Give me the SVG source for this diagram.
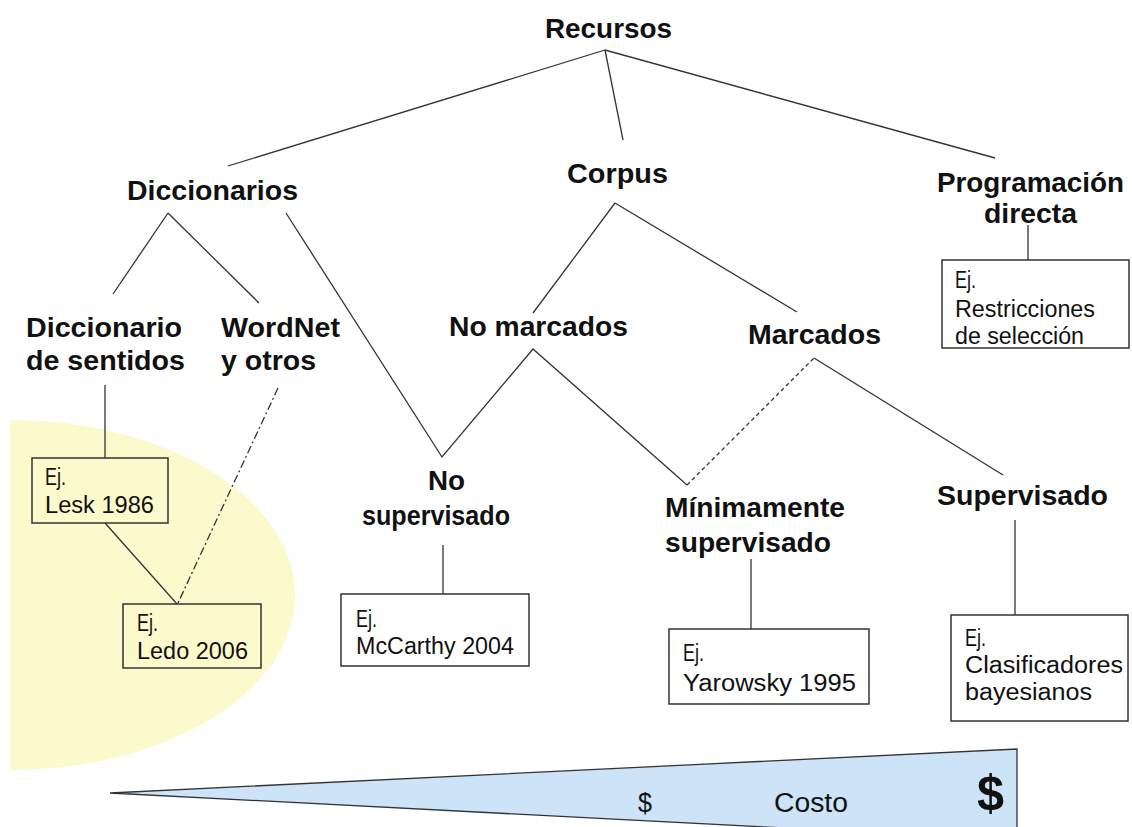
<svg xmlns="http://www.w3.org/2000/svg" width="1132" height="827" viewBox="0 0 1132 827">
<style>
.lbl{font-family:"Liberation Sans",Arial,sans-serif;font-weight:bold;font-size:28px;fill:#111}
.box{fill:#fff;stroke:#333;stroke-width:1.5}
.boxt{fill:none;stroke:#333;stroke-width:1.5}
.bt{font-family:"Liberation Sans",Arial,sans-serif;font-size:23px;fill:#111}
.ln{stroke:#333;stroke-width:1.3;fill:none}
.dash{stroke:#333;stroke-width:1.3;fill:none;stroke-dasharray:4 3}
.dashdot{stroke:#333;stroke-width:1.3;fill:none;stroke-dasharray:8 3 2 3}
</style>
<rect width="1132" height="827" fill="#fff"/>
<g id="highlight">
<path d="M10,420 A285,175 0 0 1 10,770 Z" fill="#fcf9cc"/>
</g>
<g id="cost">
<polygon points="110,793 1017,749 1017,840" fill="#cce3f8" stroke="#333" stroke-width="1.3"/>
<text x="638" y="812" class="bt" style="font-size:27px" textLength="14" lengthAdjust="spacingAndGlyphs">$</text>
<text x="774" y="812" class="bt" style="font-size:27px" textLength="74" lengthAdjust="spacingAndGlyphs">Costo</text>
<text x="977" y="810" class="lbl" style="font-size:50px" textLength="27" lengthAdjust="spacingAndGlyphs">$</text>
</g>
<g id="connectors">
<line class="ln" x1="605" y1="50" x2="228" y2="166"/>
<line class="ln" x1="605" y1="50" x2="623" y2="140"/>
<line class="ln" x1="605" y1="50" x2="995" y2="158"/>
<line class="ln" x1="168" y1="213" x2="113" y2="294"/>
<line class="ln" x1="168" y1="213" x2="259" y2="303"/>
<polyline class="ln" points="286,213 442,457 533,349 687,485"/>
<line class="dash" x1="687" y1="485" x2="814" y2="358"/>
<line class="ln" x1="814" y1="358" x2="1003" y2="475"/>
<line class="ln" x1="615" y1="203" x2="533" y2="313"/>
<line class="ln" x1="615" y1="203" x2="797" y2="312"/>
<line class="ln" x1="105" y1="385" x2="105" y2="458"/>
<line class="dashdot" x1="278" y1="388" x2="178" y2="603"/>
<line class="ln" x1="105" y1="523" x2="177" y2="604"/>
<line class="ln" x1="443" y1="545" x2="443" y2="594"/>
<line class="ln" x1="751" y1="559" x2="751" y2="629"/>
<line class="ln" x1="1015" y1="520" x2="1015" y2="615"/>
<line class="ln" x1="1028" y1="225" x2="1028" y2="260"/>
</g>
<g id="recursos"><text x="545" y="38" class="lbl" textLength="127" lengthAdjust="spacingAndGlyphs">Recursos</text></g>
<g id="diccionarios"><text x="127" y="200" class="lbl" textLength="171" lengthAdjust="spacingAndGlyphs">Diccionarios</text></g>
<g id="corpus"><text x="567" y="183" class="lbl" textLength="101" lengthAdjust="spacingAndGlyphs">Corpus</text></g>
<g id="programacion">
<text x="937" y="192" class="lbl" textLength="187" lengthAdjust="spacingAndGlyphs">Programación</text>
<text x="984" y="223" class="lbl" textLength="93" lengthAdjust="spacingAndGlyphs">directa</text>
</g>
<g id="diccionario-sentidos">
<text x="26" y="337" class="lbl" textLength="156" lengthAdjust="spacingAndGlyphs">Diccionario</text>
<text x="26" y="370" class="lbl" textLength="159" lengthAdjust="spacingAndGlyphs">de sentidos</text>
</g>
<g id="wordnet">
<text x="221" y="337" class="lbl" textLength="119" lengthAdjust="spacingAndGlyphs">WordNet</text>
<text x="221" y="370" class="lbl" textLength="95" lengthAdjust="spacingAndGlyphs">y otros</text>
</g>
<g id="no-marcados"><text x="449" y="336" class="lbl" textLength="179" lengthAdjust="spacingAndGlyphs">No marcados</text></g>
<g id="marcados"><text x="748" y="344" class="lbl" textLength="133" lengthAdjust="spacingAndGlyphs">Marcados</text></g>
<g id="no-supervisado">
<text x="428" y="490" class="lbl" textLength="37" lengthAdjust="spacingAndGlyphs">No</text>
<text x="362" y="525" class="lbl" textLength="148" lengthAdjust="spacingAndGlyphs">supervisado</text>
</g>
<g id="minimamente">
<text x="665" y="517" class="lbl" textLength="180" lengthAdjust="spacingAndGlyphs">Mínimamente</text>
<text x="665" y="552" class="lbl" textLength="166" lengthAdjust="spacingAndGlyphs">supervisado</text>
</g>
<g id="supervisado"><text x="937" y="505" class="lbl" textLength="171" lengthAdjust="spacingAndGlyphs">Supervisado</text></g>
<g id="ej-restricciones">
<rect x="942" y="260" width="187" height="88" class="box"/>
<text x="955" y="288" class="bt" textLength="21" lengthAdjust="spacingAndGlyphs">Ej.</text>
<text x="955" y="317" class="bt" textLength="140" lengthAdjust="spacingAndGlyphs">Restricciones</text>
<text x="955" y="344" class="bt" textLength="129" lengthAdjust="spacingAndGlyphs">de selección</text>
</g>
<g id="ej-lesk">
<rect x="32" y="458" width="136" height="65" class="boxt"/>
<text x="45" y="485" class="bt" textLength="21" lengthAdjust="spacingAndGlyphs">Ej.</text>
<text x="45" y="513" class="bt" textLength="109" lengthAdjust="spacingAndGlyphs">Lesk 1986</text>
</g>
<g id="ej-ledo">
<rect x="123" y="604" width="138" height="64" class="boxt"/>
<text x="137" y="631" class="bt" textLength="21" lengthAdjust="spacingAndGlyphs">Ej.</text>
<text x="137" y="659" class="bt" textLength="111" lengthAdjust="spacingAndGlyphs">Ledo 2006</text>
</g>
<g id="ej-mccarthy">
<rect x="341" y="594" width="188" height="72" class="box"/>
<text x="356" y="627" class="bt" textLength="21" lengthAdjust="spacingAndGlyphs">Ej.</text>
<text x="356" y="654" class="bt" textLength="158" lengthAdjust="spacingAndGlyphs">McCarthy 2004</text>
</g>
<g id="ej-yarowsky">
<rect x="669" y="629" width="200" height="75" class="box"/>
<text x="683" y="661" class="bt" textLength="21" lengthAdjust="spacingAndGlyphs">Ej.</text>
<text x="683" y="691" class="bt" textLength="173" lengthAdjust="spacingAndGlyphs">Yarowsky 1995</text>
</g>
<g id="ej-clasificadores">
<rect x="951" y="615" width="177" height="106" class="box"/>
<text x="965" y="646" class="bt" textLength="21" lengthAdjust="spacingAndGlyphs">Ej.</text>
<text x="965" y="673" class="bt" textLength="158" lengthAdjust="spacingAndGlyphs">Clasificadores</text>
<text x="965" y="700" class="bt" textLength="127" lengthAdjust="spacingAndGlyphs">bayesianos</text>
</g>
</svg>
